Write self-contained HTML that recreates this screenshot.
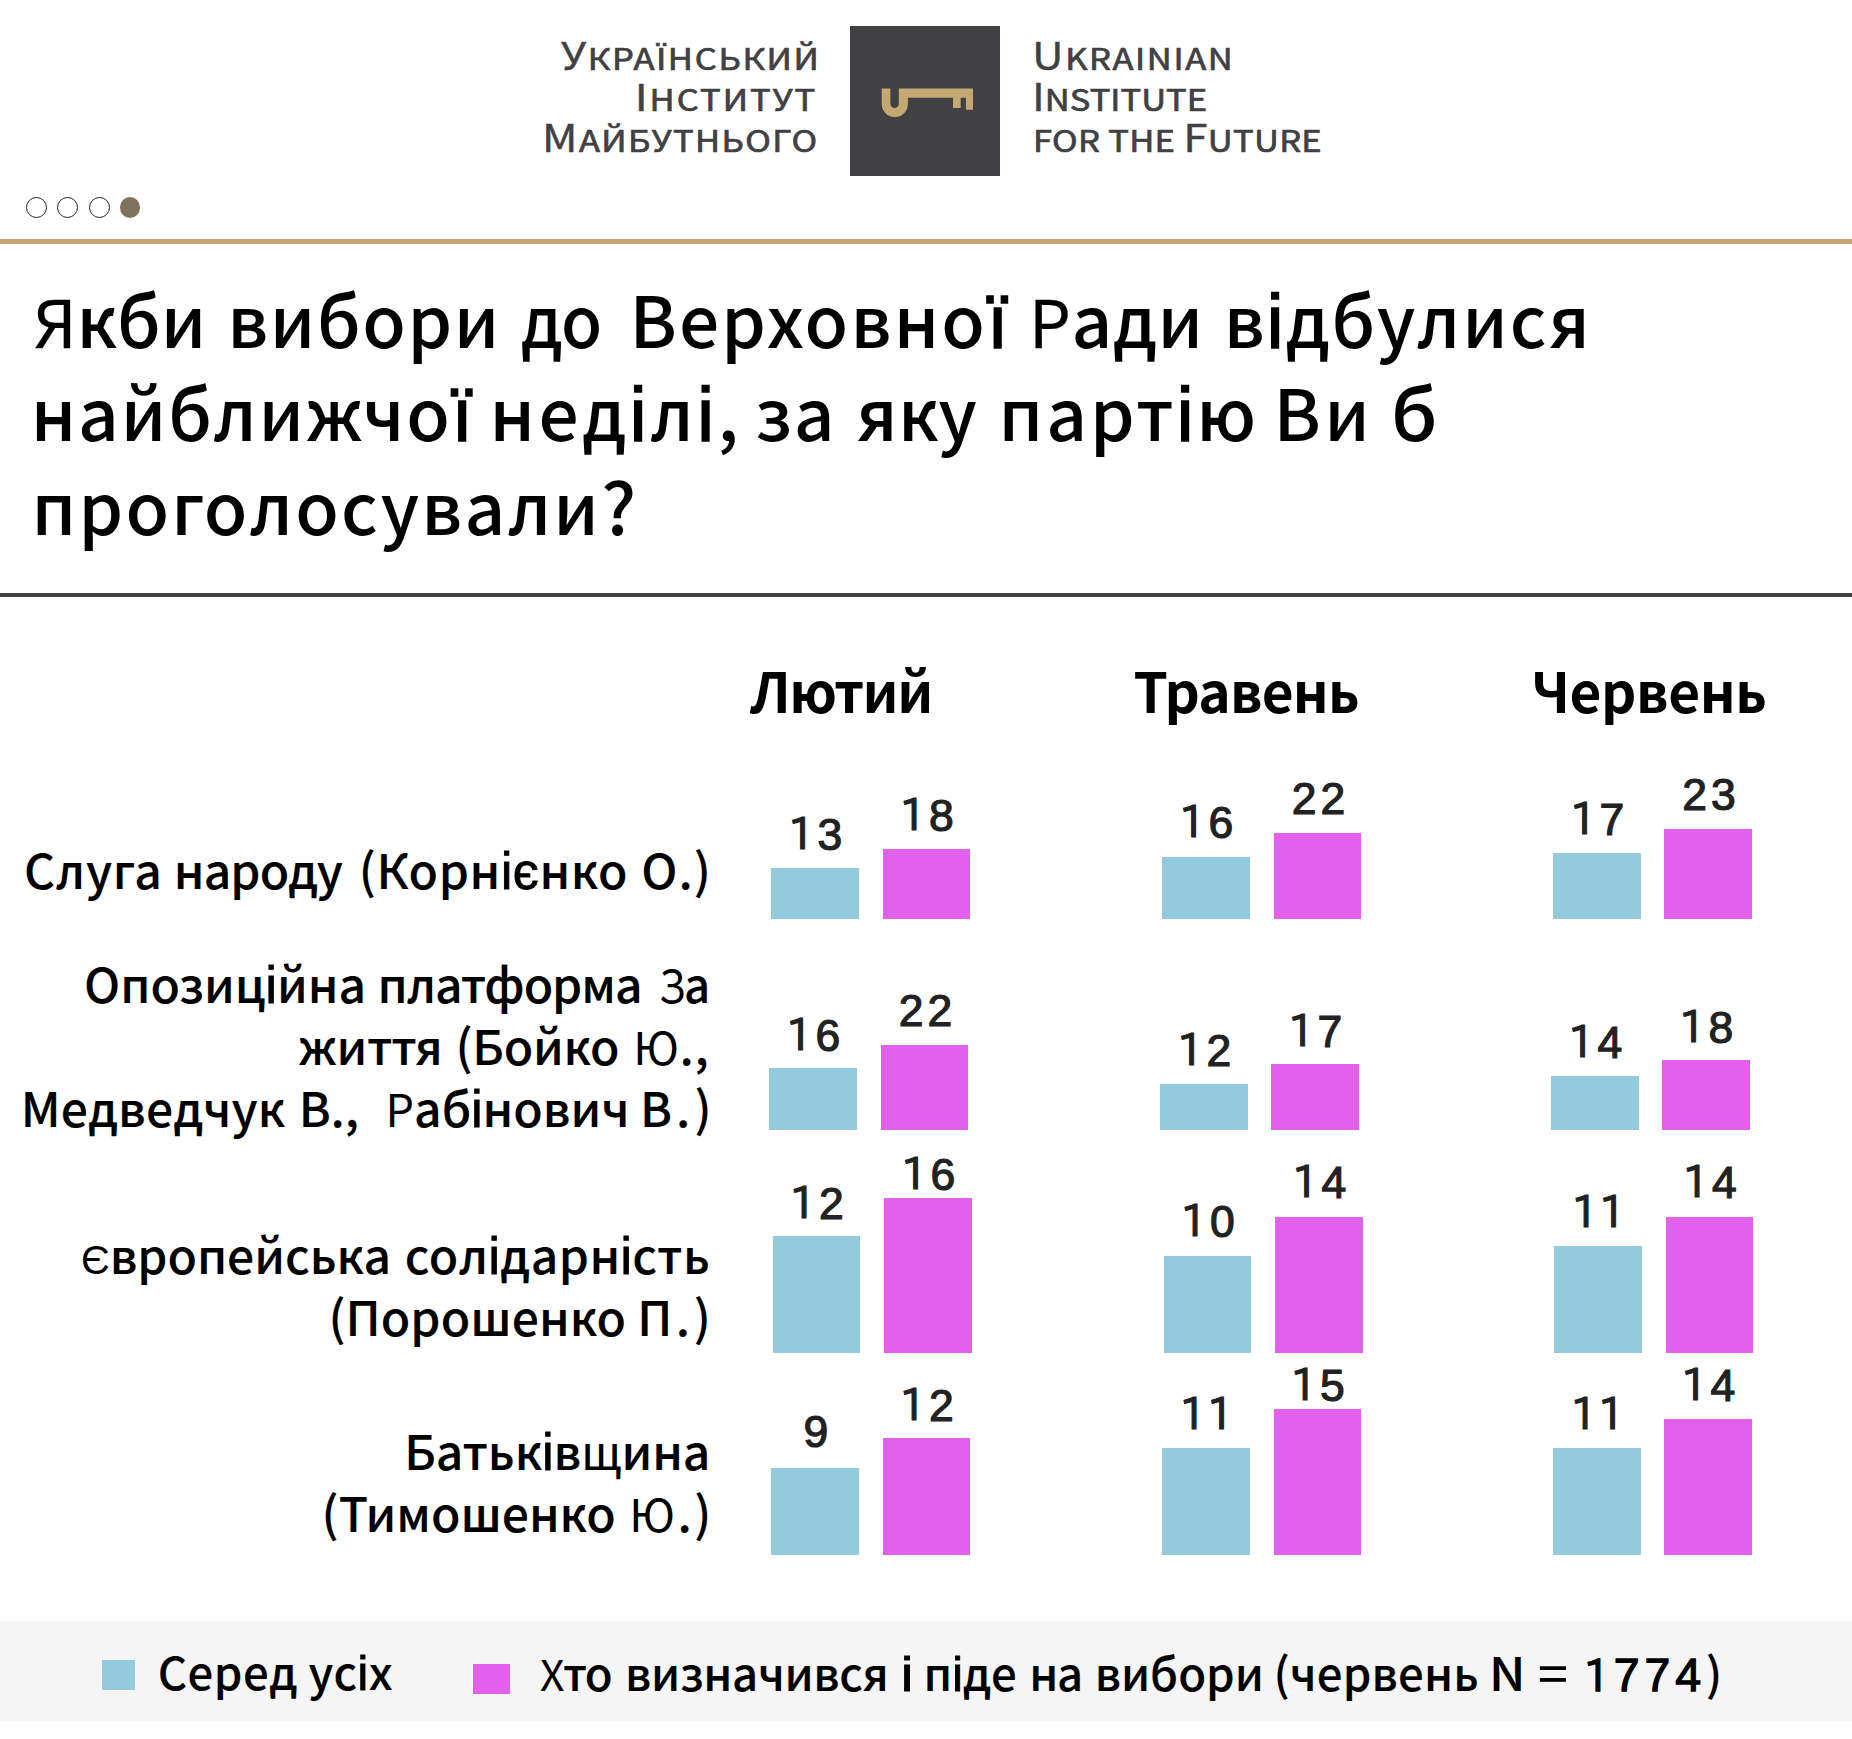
<!DOCTYPE html>
<html lang="uk"><head><meta charset="utf-8"><title>Якби вибори до Верховної Ради відбулися найближчої неділі</title>
<style>
html,body{margin:0;padding:0;background:#fff}
body{width:1852px;height:1739px;position:relative;overflow:hidden;font-family:"Liberation Sans",sans-serif;color:#000}
h1,header,section,footer{margin:0;padding:0;font:inherit;display:block}
.t{position:absolute;display:block;white-space:nowrap;margin:0;padding:0;transform-origin:0 0}
.r{position:absolute}
.logo{color:#414042;font-family:"Noto Sans CJK SC","Liberation Sans",sans-serif;-webkit-text-stroke:0.7px #414042}
.logo b{font-weight:normal;font-size:38px;-webkit-text-stroke:.4px #414042}
.logo u{text-decoration:none;font-family:"Liberation Sans",sans-serif;font-size:1.03em}
.title,.lab,.leg{font-family:"Noto Sans CJK SC","Liberation Sans",sans-serif}
.title{font-weight:500;-webkit-text-stroke:0px #000}
.lab{font-weight:500;-webkit-text-stroke:0.1px #000}
.leg{font-weight:500;-webkit-text-stroke:0.1px #000}
.title u{text-decoration:none;font-family:"Liberation Sans",sans-serif;font-weight:400;font-size:1.06em;-webkit-text-stroke:1.6px #000}
.lab u,.leg u{text-decoration:none;font-family:"Liberation Sans",sans-serif;font-weight:400;font-size:1.06em;-webkit-text-stroke:0.9px #000}
.title s{text-decoration:none;font-weight:400;font-size:0.93em;-webkit-text-stroke:0.3px #000}
.lab s,.leg s{text-decoration:none;font-weight:400;font-size:0.94em;-webkit-text-stroke:0px #000}
.lab em{font-style:normal;font-weight:400}
.leg i{font-style:normal;font-family:"Liberation Sans",sans-serif;font-weight:400;font-size:1.02em;-webkit-text-stroke:1.3px #000}
.leg i em{font-style:normal;font-family:"IPAPGothic","Liberation Sans",sans-serif;font-size:.91em;margin:0 -1.2px 0 -1.8px;position:relative;top:-.5px}
.hd{font-family:"Noto Sans CJK SC","Liberation Sans",sans-serif;font-weight:bold}
.num{color:#222;-webkit-text-stroke:1.2px #222}
.num em{font-style:normal;font-family:"IPAPGothic","Liberation Sans",sans-serif;font-size:42.6px;margin:0 -1.3px 0 -1.9px;position:relative;top:-1px}
.dot{position:absolute;box-sizing:border-box;border-radius:50%;border:1.2px solid #222;width:21px;height:21px;top:196.5px}

</style></head><body>
<header>
<span class="t logo" style="left:560.5px;top:38.8px;font-size:30px;line-height:30px;letter-spacing:1.49px;transform:scaleX(1.15);"><b>У</b>КРА<u>Ї</u>НСЬКИЙ</span>
<span class="t logo" style="left:634.8px;top:79.8px;font-size:30px;line-height:30px;letter-spacing:1.76px;transform:scaleX(1.15);"><b><u>І</u></b>НСТИТУТ</span>
<span class="t logo" style="left:541.6px;top:121.2px;font-size:30px;line-height:30px;letter-spacing:1.22px;transform:scaleX(1.15);"><b>М</b>АЙБУТНЬОГО</span>
<div class="r" style="left:850px;top:26px;width:150px;height:150px;background:#414042"></div>
<svg class="r" style="left:850px;top:26px" width="150" height="150" viewBox="850 26 150 150"><path fill="#c4a873" fill-rule="evenodd" d="M881.7 88.6 H973 V109.7 H965.9 V97.7 H960.7 V108.1 H953 V97.7 H907.9 V104.1 A13.1 13.1 0 0 1 881.7 104.1 Z M890.4 88.6 V103.9 A4.2 4.2 0 0 0 898.8 103.9 V88.6 Z"/></svg>
<span class="t logo" style="left:1031.7px;top:38.8px;font-size:30px;line-height:30px;letter-spacing:1.42px;transform:scaleX(1.15);"><b>U</b>KRAINIAN</span>
<span class="t logo" style="left:1031.7px;top:79.8px;font-size:30px;line-height:30px;letter-spacing:0.03px;transform:scaleX(1.15);"><b>I</b>NSTITUTE</span>
<span class="t logo" style="left:1032.7px;top:121.2px;font-size:30px;line-height:30px;letter-spacing:0.28px;transform:scaleX(1.15);">FOR THE <b>F</b>UTURE</span>
<!-- pager dots -->
<div class="dot" style="left:25.9px"></div>
<div class="dot" style="left:57.0px"></div>
<div class="dot" style="left:88.5px"></div>
<div class="dot" style="left:119.9px;width:20.4px;border:none;background:#7f725c"></div>
<div class="r" style="left:0px;top:239px;width:1852px;height:5px;background:#c2a672"></div>
</header>
<h1>
<span class="t title" style="left:33.8px;top:282px;font-size:71px;line-height:71px;letter-spacing:-0.17px;"><s>Я</s>кби</span>
<span class="t title" style="left:227.3px;top:282px;font-size:71px;line-height:71px;letter-spacing:1.5px;">вибори</span>
<span class="t title" style="left:520.96px;top:282px;font-size:71px;line-height:71px;letter-spacing:-1.5px;transform:scaleX(0.944);">до</span>
<span class="t title" style="left:629.4px;top:282px;font-size:71px;line-height:71px;letter-spacing:2.2px;">Верховно<u>ї</u></span>
<span class="t title" style="left:1029px;top:282px;font-size:71px;line-height:71px;letter-spacing:0.67px;"><s>Р</s>ади</span>
<span class="t title" style="left:1223.7px;top:282px;font-size:71px;line-height:71px;letter-spacing:2.09px;">в<u>і</u>дбулися</span>
<span class="t title" style="left:30.8px;top:375.4px;font-size:71px;line-height:71px;letter-spacing:1.86px;">найближчо<u>ї</u></span>
<span class="t title" style="left:489.5px;top:375.4px;font-size:71px;line-height:71px;letter-spacing:3.62px;">нед<u>і</u>л<u>і</u>,</span>
<span class="t title" style="left:755px;top:375.4px;font-size:71px;line-height:71px;letter-spacing:1.9px;">за</span>
<span class="t title" style="left:855.8px;top:375.4px;font-size:71px;line-height:71px;letter-spacing:0.45px;">яку</span>
<span class="t title" style="left:998.5px;top:375.4px;font-size:71px;line-height:71px;letter-spacing:2.98px;">парт<u>і</u>ю</span>
<span class="t title" style="left:1273.5px;top:375.4px;font-size:71px;line-height:71px;letter-spacing:3.5px;">Ви</span>
<span class="t title" style="left:1390.94px;top:375.4px;font-size:71px;line-height:71px;transform:scaleX(1.064);">б</span>
<span class="t title" style="left:31.5px;top:468.8px;font-size:71px;line-height:71px;letter-spacing:2.23px;">проголосували?</span>
</h1>
<div class="r" style="left:0px;top:593px;width:1852px;height:4px;background:#414042"></div>
<section>
<!-- column headers -->
<span class="t hd" style="left:750.2px;top:662px;font-size:55px;line-height:55px;letter-spacing:-1.5px;">Лютий</span>
<span class="t hd" style="left:1133.6px;top:662px;font-size:55px;line-height:55px;letter-spacing:-0.85px;">Травень</span>
<span class="t hd" style="left:1531.2px;top:662px;font-size:55px;line-height:55px;letter-spacing:-0.43px;">Червень</span>
<!-- row labels -->
<span class="t lab" style="left:24px;top:844px;font-size:48px;line-height:48px;letter-spacing:0.75px;">Слуга</span>
<span class="t lab" style="left:173.8px;top:844px;font-size:48px;line-height:48px;letter-spacing:-0.88px;">народу</span>
<span class="t lab" style="left:358.8px;top:844px;font-size:48px;line-height:48px;letter-spacing:0.61px;">(Корн<u>іє</u>нко</span>
<span class="t lab" style="left:641.2px;top:844px;font-size:48px;line-height:48px;letter-spacing:1px;">О.)</span>
<span class="t lab" style="left:83.9px;top:958px;font-size:48px;line-height:48px;letter-spacing:0.06px;">Опозиц<u>і</u>йна</span>
<span class="t lab" style="left:377.5px;top:958px;font-size:48px;line-height:48px;letter-spacing:-1.04px;">платформа</span>
<span class="t lab" style="left:659.3px;top:958px;font-size:48px;line-height:48px;letter-spacing:-1.5px;transform:scaleX(0.948);"><s>З</s>а</span>
<span class="t lab" style="left:298.6px;top:1020px;font-size:48px;line-height:48px;letter-spacing:-0.23px;">життя</span>
<span class="t lab" style="left:455.4px;top:1020px;font-size:48px;line-height:48px;letter-spacing:-0.22px;">(Бойко</span>
<span class="t lab" style="left:633.2px;top:1020px;font-size:48px;line-height:48px;letter-spacing:0.6px;"><s>Ю</s>.,</span>
<span class="t lab" style="left:20.8px;top:1082px;font-size:48px;line-height:48px;letter-spacing:0.21px;">Медведчук</span>
<span class="t lab" style="left:298.8px;top:1082px;font-size:48px;line-height:48px;letter-spacing:-0.2px;">В.,</span>
<span class="t lab" style="left:385.5px;top:1082px;font-size:48px;line-height:48px;letter-spacing:-0.01px;"><s>Р</s>аб<u>і</u>нович</span>
<span class="t lab" style="left:640px;top:1082px;font-size:48px;line-height:48px;letter-spacing:4.1px;">В.)</span>
<span class="t lab" style="left:81.1px;top:1229px;font-size:48px;line-height:48px;letter-spacing:-0.08px;"><s style="font-size:.83em">Є</s>вропейська</span>
<span class="t lab" style="left:404.7px;top:1229px;font-size:48px;line-height:48px;letter-spacing:0.45px;">сол<u>і</u>дарн<u>і</u>сть</span>
<span class="t lab" style="left:328.4px;top:1291px;font-size:48px;line-height:48px;letter-spacing:0.07px;">(Порошенко</span>
<span class="t lab" style="left:637.2px;top:1291px;font-size:48px;line-height:48px;letter-spacing:3.5px;">П.)</span>
<span class="t lab" style="left:404.3px;top:1424.7px;font-size:48px;line-height:48px;letter-spacing:-0.11px;">Батьк<u>і</u>в<em>щ</em>ина</span>
<span class="t lab" style="left:321.6px;top:1486.7px;font-size:48px;line-height:48px;letter-spacing:-0.03px;">(Тимошенко</span>
<span class="t lab" style="left:629.2px;top:1486.7px;font-size:48px;line-height:48px;letter-spacing:2.5px;"><s>Ю</s>.)</span>
<!-- bars -->
<div class="r" style="left:771px;top:868px;width:88px;height:51px;background:#93cbdc"></div>
<span class="t num" style="left:717.95px;width:200px;text-align:center;top:811.53px;font-size:44.5px;line-height:44.5px;letter-spacing:3.9px"><em>1</em>3</span>
<div class="r" style="left:883px;top:849px;width:87px;height:70px;background:#e360ec"></div>
<span class="t num" style="left:829.45px;width:200px;text-align:center;top:793.13px;font-size:44.5px;line-height:44.5px;letter-spacing:3.9px"><em>1</em>8</span>
<div class="r" style="left:1162px;top:857px;width:88px;height:62px;background:#93cbdc"></div>
<span class="t num" style="left:1108.95px;width:200px;text-align:center;top:800.13px;font-size:44.5px;line-height:44.5px;letter-spacing:3.9px"><em>1</em>6</span>
<div class="r" style="left:1274px;top:833px;width:87px;height:86px;background:#e360ec"></div>
<span class="t num" style="left:1220.45px;width:200px;text-align:center;top:777.33px;font-size:44.5px;line-height:44.5px;letter-spacing:3.9px">22</span>
<div class="r" style="left:1553px;top:853px;width:88px;height:66px;background:#93cbdc"></div>
<span class="t num" style="left:1499.95px;width:200px;text-align:center;top:796.83px;font-size:44.5px;line-height:44.5px;letter-spacing:3.9px"><em>1</em>7</span>
<div class="r" style="left:1664px;top:829px;width:88px;height:90px;background:#e360ec"></div>
<span class="t num" style="left:1610.95px;width:200px;text-align:center;top:772.93px;font-size:44.5px;line-height:44.5px;letter-spacing:3.9px">23</span>
<div class="r" style="left:769px;top:1068px;width:88px;height:62px;background:#93cbdc"></div>
<span class="t num" style="left:715.95px;width:200px;text-align:center;top:1012.53px;font-size:44.5px;line-height:44.5px;letter-spacing:3.9px"><em>1</em>6</span>
<div class="r" style="left:881px;top:1045px;width:87px;height:85px;background:#e360ec"></div>
<span class="t num" style="left:827.45px;width:200px;text-align:center;top:988.73px;font-size:44.5px;line-height:44.5px;letter-spacing:3.9px">22</span>
<div class="r" style="left:1160px;top:1084px;width:88px;height:46px;background:#93cbdc"></div>
<span class="t num" style="left:1106.95px;width:200px;text-align:center;top:1027.63px;font-size:44.5px;line-height:44.5px;letter-spacing:3.9px"><em>1</em>2</span>
<div class="r" style="left:1271px;top:1064px;width:88px;height:66px;background:#e360ec"></div>
<span class="t num" style="left:1217.95px;width:200px;text-align:center;top:1009.03px;font-size:44.5px;line-height:44.5px;letter-spacing:3.9px"><em>1</em>7</span>
<div class="r" style="left:1551px;top:1076px;width:88px;height:54px;background:#93cbdc"></div>
<span class="t num" style="left:1497.95px;width:200px;text-align:center;top:1019.53px;font-size:44.5px;line-height:44.5px;letter-spacing:3.9px"><em>1</em>4</span>
<div class="r" style="left:1662px;top:1060px;width:88px;height:70px;background:#e360ec"></div>
<span class="t num" style="left:1608.95px;width:200px;text-align:center;top:1004.53px;font-size:44.5px;line-height:44.5px;letter-spacing:3.9px"><em>1</em>8</span>
<div class="r" style="left:773px;top:1236px;width:87px;height:117px;background:#93cbdc"></div>
<span class="t num" style="left:719.45px;width:200px;text-align:center;top:1180.53px;font-size:44.5px;line-height:44.5px;letter-spacing:3.9px"><em>1</em>2</span>
<div class="r" style="left:884px;top:1198px;width:88px;height:155px;background:#e360ec"></div>
<span class="t num" style="left:830.95px;width:200px;text-align:center;top:1152.33px;font-size:44.5px;line-height:44.5px;letter-spacing:3.9px"><em>1</em>6</span>
<div class="r" style="left:1164px;top:1256px;width:87px;height:97px;background:#93cbdc"></div>
<span class="t num" style="left:1110.45px;width:200px;text-align:center;top:1199.33px;font-size:44.5px;line-height:44.5px;letter-spacing:3.9px"><em>1</em>0</span>
<div class="r" style="left:1275px;top:1217px;width:88px;height:136px;background:#e360ec"></div>
<span class="t num" style="left:1221.95px;width:200px;text-align:center;top:1160.33px;font-size:44.5px;line-height:44.5px;letter-spacing:3.9px"><em>1</em>4</span>
<div class="r" style="left:1554px;top:1246px;width:88px;height:107px;background:#93cbdc"></div>
<span class="t num" style="left:1500.95px;width:200px;text-align:center;top:1190.33px;font-size:44.5px;line-height:44.5px;letter-spacing:3.9px"><em>1</em><em>1</em></span>
<div class="r" style="left:1666px;top:1217px;width:87px;height:136px;background:#e360ec"></div>
<span class="t num" style="left:1612.45px;width:200px;text-align:center;top:1160.33px;font-size:44.5px;line-height:44.5px;letter-spacing:3.9px"><em>1</em>4</span>
<div class="r" style="left:771px;top:1468px;width:88px;height:87px;background:#93cbdc"></div>
<span class="t num" style="left:717.95px;width:200px;text-align:center;top:1410.33px;font-size:44.5px;line-height:44.5px;letter-spacing:3.9px">9</span>
<div class="r" style="left:883px;top:1438px;width:87px;height:117px;background:#e360ec"></div>
<span class="t num" style="left:829.45px;width:200px;text-align:center;top:1382.63px;font-size:44.5px;line-height:44.5px;letter-spacing:3.9px"><em>1</em>2</span>
<div class="r" style="left:1162px;top:1448px;width:88px;height:107px;background:#93cbdc"></div>
<span class="t num" style="left:1108.95px;width:200px;text-align:center;top:1392.03px;font-size:44.5px;line-height:44.5px;letter-spacing:3.9px"><em>1</em><em>1</em></span>
<div class="r" style="left:1274px;top:1409px;width:87px;height:146px;background:#e360ec"></div>
<span class="t num" style="left:1220.45px;width:200px;text-align:center;top:1363.33px;font-size:44.5px;line-height:44.5px;letter-spacing:3.9px"><em>1</em>5</span>
<div class="r" style="left:1553px;top:1448px;width:88px;height:107px;background:#93cbdc"></div>
<span class="t num" style="left:1499.95px;width:200px;text-align:center;top:1392.03px;font-size:44.5px;line-height:44.5px;letter-spacing:3.9px"><em>1</em><em>1</em></span>
<div class="r" style="left:1664px;top:1419px;width:88px;height:136px;background:#e360ec"></div>
<span class="t num" style="left:1610.95px;width:200px;text-align:center;top:1363.33px;font-size:44.5px;line-height:44.5px;letter-spacing:3.9px"><em>1</em>4</span>
</section>
<footer>
<div class="r" style="left:0px;top:1621px;width:1852px;height:100px;background:#f5f5f5"></div>
<div class="r" style="left:102px;top:1660px;width:33px;height:30px;background:#93cbdc"></div>
<div class="r" style="left:473px;top:1664px;width:37px;height:30px;background:#e360ec"></div>
<span class="t leg" style="left:157.7px;top:1647.6px;font-size:45.5px;line-height:45.5px;letter-spacing:0.5px;">Серед ус<u>і</u>х</span>
<span class="t leg" style="left:540.3px;top:1649px;font-size:45.5px;line-height:45.5px;letter-spacing:-1.5px;transform:scaleX(0.999);"><s>Х</s>то</span>
<span class="t leg" style="left:625px;top:1649px;font-size:45.5px;line-height:45.5px;letter-spacing:-0.31px;">визначився</span>
<span class="t leg" style="left:900.73px;top:1649px;font-size:45.5px;line-height:45.5px;transform:scaleX(1.133);"><u>і</u></span>
<span class="t leg" style="left:923.5px;top:1649px;font-size:45.5px;line-height:45.5px;letter-spacing:0.03px;">п<u>і</u>де</span>
<span class="t leg" style="left:1029.3px;top:1649px;font-size:45.5px;line-height:45.5px;letter-spacing:-1.5px;">на</span>
<span class="t leg" style="left:1094.7px;top:1649px;font-size:45.5px;line-height:45.5px;letter-spacing:-0.06px;">вибори</span>
<span class="t leg" style="left:1273.4px;top:1649px;font-size:45.5px;line-height:45.5px;letter-spacing:0.17px;">(червень</span>
<span class="t leg" style="left:1488.63px;top:1649px;font-size:45.5px;line-height:45.5px;transform:scaleX(1.092);">N</span>
<span class="t leg" style="left:1538.15px;top:1649px;font-size:45.5px;line-height:45.5px;transform:scaleX(1.154);">=</span>
<span class="t leg" style="left:1585.2px;top:1649px;font-size:45.5px;line-height:45.5px;letter-spacing:4.95px;"><i><em>1</em>774</i>)</span>
</footer>
</body></html>
